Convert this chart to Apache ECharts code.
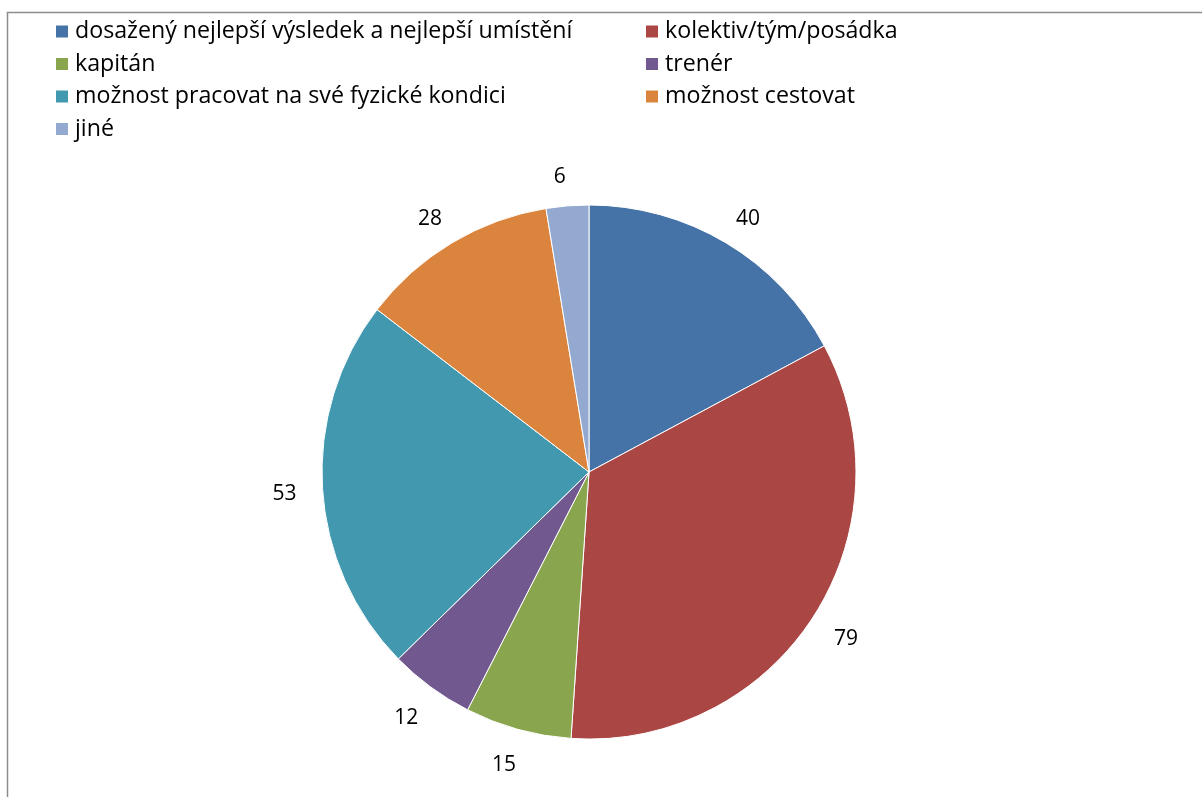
<!DOCTYPE html>
<html><head><meta charset="utf-8">
<script src="https://cdn.jsdelivr.net/npm/echarts@6/dist/echarts.min.js"></script>
<style>html,body{margin:0;padding:0;background:#fff}#c{width:1202px;height:797px}</style>
</head><body><div id="c"></div>
<script>
const categories = ['dosažený nejlepší výsledek a nejlepší umístění','kolektiv/tým/posádka','kapitán','trenér','možnost pracovat na své fyzické kondici','možnost cestovat','jiné'];
const values = [40, 79, 15, 12, 53, 28, 6];
const colors = ['#4572A7','#AA4643','#89A54E','#71588F','#4198AF','#DB843D','#93A9CF'];
const leftCol = [0,2,4,6].map(i=>categories[i]);
const rightCol = [1,3,5].map(i=>categories[i]);
const FONT = 'Open Sans';
const chart = echarts.init(document.getElementById('c'));
const legendBase = {orient:'vertical', itemWidth:14, itemHeight:14, itemGap:9.5, icon:'rect',
  textStyle:{fontFamily:FONT, fontSize:23.2, color:'#000', padding:[0,0,0,1]}, padding:0};
chart.setOption({
  animation:false,
  color: colors,
  graphic:[{type:'rect', shape:{x:7.5,y:12.5,width:1400,height:1000}, style:{fill:'none', stroke:'#8c8c8c', lineWidth:1.5}}],
  legend:[
    Object.assign({}, legendBase, {left:54, top:20, data:leftCol}),
    Object.assign({}, legendBase, {left:644, top:20, data:rightCol})
  ],
  series:[{
    type:'pie', center:[589,472], radius:267, startAngle:90, clockwise:true,
    itemStyle:{borderColor:'#fff', borderWidth:1},
    label:{show:true, position:'outside', formatter:'{c}', fontFamily:FONT, fontSize:21, color:'#000'},
    labelLine:{show:false, length:33, length2:0},
    labelLayout: function(){ return {align:'center', verticalAlign:'middle', dy:4}; },
    emphasis:{disabled:true},
    data: categories.map((n,i)=>({name:n, value:values[i]}))
  }]
});
</script></body></html>
